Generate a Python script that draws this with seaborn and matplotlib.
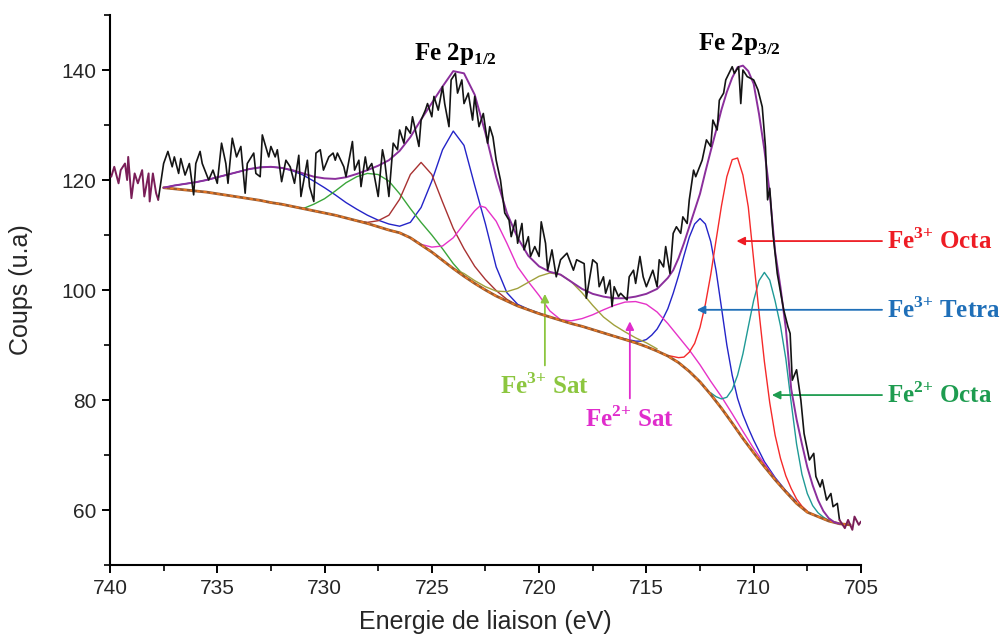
import matplotlib
matplotlib.use("Agg")
import matplotlib.pyplot as plt
from matplotlib.ticker import MultipleLocator
import seaborn as sns

# raw spectrum (black)
raw_x = [737.75, 737.5, 737.3, 737.1, 737.0, 736.8, 736.7, 736.5, 736.3, 736.1,
         736.0, 735.8, 735.7, 735.4, 735.2, 735.0, 734.8, 734.6, 734.5, 734.3,
         734.1, 733.9, 733.7, 733.6, 733.3, 733.2, 733.0, 732.9, 732.6, 732.5,
         732.3, 732.2, 732.0, 731.8, 731.6, 731.4, 731.2, 731.1, 730.8, 730.7,
         730.5, 730.4, 730.2, 730.05, 729.8, 729.6, 729.5, 729.4, 729.1, 729.0,
         728.7, 728.6, 728.4, 728.3, 728.1, 728.0, 727.8, 727.7, 727.5, 727.3,
         727.2, 727.0, 726.8, 726.6, 726.5, 726.3, 726.2, 726.0, 725.9, 725.6,
         725.5, 725.3, 725.2, 725.0, 724.9, 724.7, 724.5, 724.4, 724.2, 724.1,
         723.9, 723.8, 723.6, 723.5, 723.3, 723.1, 723.0, 722.8, 722.6, 722.4,
         722.3, 722.15, 722.0, 721.8, 721.7, 721.6, 721.4, 721.3, 721.1, 721.0,
         720.8, 720.7, 720.5, 720.4, 720.2, 720.0, 719.9, 719.7, 719.6, 719.4,
         719.2, 719.0, 718.7, 718.4, 718.25, 717.9, 717.8, 717.5, 717.3, 717.2,
         717.0, 716.9, 716.7, 716.6, 716.5, 716.3, 716.2, 715.9, 715.8, 715.6,
         715.5, 715.3, 715.15, 715.0, 714.7, 714.5, 714.4, 714.2, 714.1, 713.9,
         713.75, 713.6, 713.4, 713.3, 713.1, 713.0, 712.8, 712.7, 712.4, 712.2,
         712.0, 711.9, 711.7, 711.6, 711.4, 711.3, 711.0, 710.9, 710.7, 710.6,
         710.5, 710.3, 710.0, 709.8, 709.6, 709.45, 709.35, 709.25, 709.1, 708.9,
         708.6, 708.4, 708.3, 708.2, 708.0, 707.8, 707.65, 707.4, 707.2, 707.1,
         706.9, 706.8, 706.6, 706.4, 706.3, 706.1, 706.0]
raw_y = [116.4, 123.0, 125.2, 122.4, 124.2, 121.2, 123.9, 120.9, 123.0, 117.3,
         123.0, 125.2, 123.0, 120.0, 121.8, 119.4, 126.7, 123.0, 119.4, 127.6,
         124.2, 126.1, 117.6, 123.0, 124.9, 121.2, 120.6, 128.2, 124.2, 126.1,
         124.2, 125.5, 119.7, 123.6, 122.4, 119.4, 124.5, 117.0, 123.6, 118.8,
         116.1, 124.9, 125.5, 121.8, 124.2, 124.9, 123.6, 124.9, 122.4, 120.6,
         127.0, 121.8, 123.6, 118.8, 124.2, 121.8, 123.0, 121.2, 117.0, 125.5,
         123.6, 117.0, 126.7, 125.5, 129.1, 126.7, 129.7, 128.5, 131.5, 126.1,
         130.9, 132.7, 133.9, 131.5, 135.2, 132.7, 137.0, 133.9, 129.7, 138.2,
         139.4, 135.8, 138.2, 133.9, 135.8, 130.9, 135.2, 129.7, 132.1, 126.7,
         129.7, 127.8, 123.6, 120.0, 117.0, 114.0, 112.7, 109.7, 112.7, 108.5,
         112.1, 107.3, 109.7, 106.1, 107.9, 106.1, 112.4, 108.5, 103.6, 107.3,
         102.4, 105.5, 106.7, 103.6, 105.5, 104.8, 98.5, 105.5, 104.8, 100.6,
         102.4, 99.4, 101.8, 97.0, 100.6, 98.8, 99.4, 98.2, 102.4, 103.6,
         101.2, 106.1, 102.4, 100.6, 103.6, 100.6, 105.5, 104.2, 107.9, 103.0,
         110.3, 111.5, 110.3, 113.3, 112.1, 116.4, 121.8, 120.6, 123.6, 127.3,
         126.1, 130.9, 129.1, 134.5, 135.8, 138.2, 140.6, 139.4, 140.6, 133.9,
         140.0, 138.8, 138.2, 136.4, 133.3, 126.0, 116.4, 118.5, 110.3, 103.0,
         96.4, 93.3, 92.1, 83.6, 85.5, 80.0, 73.9, 69.1, 70.3, 66.1,
         64.2, 65.5, 61.8, 63.0, 60.6, 61.2, 58.2]

# data outside the fitted window (dark magenta)
edge_left_x = [739.94, 739.8, 739.6, 739.5, 739.3, 739.2, 739.15, 739.0, 738.85, 738.7,
               738.5, 738.4, 738.2, 738.15, 738.0, 737.85, 737.75]
edge_left_y = [120.6, 122.4, 119.4, 121.8, 123.0, 120.0, 124.2, 116.7, 121.2, 119.4,
               121.8, 117.0, 121.2, 116.1, 121.2, 117.6, 116.4]
edge_right_x = [706.0, 705.75, 705.6, 705.4, 705.3, 705.1, 705.0]
edge_right_y = [58.2, 56.7, 58.2, 56.4, 58.8, 57.3, 57.9]

# Shirley background
bg_x = [737.5, 737.0, 736.5, 736.0, 735.5, 735.0, 734.5, 734.0, 733.5, 733.0,
        732.5, 732.0, 731.5, 731.0, 730.5, 730.0, 729.5, 729.0, 728.5, 728.0,
        727.5, 727.0, 726.5, 726.0, 725.5, 725.0, 724.5, 724.0, 723.5, 723.0,
        722.5, 722.0, 721.5, 721.0, 720.5, 720.0, 719.5, 719.0, 718.5, 718.0,
        717.5, 717.0, 716.5, 716.0, 715.5, 715.0, 714.5, 714.0, 713.5, 713.0,
        712.5, 712.0, 711.5, 711.0, 710.5, 710.0, 709.5, 709.0, 708.5, 708.0,
        707.5, 707.0, 706.5, 706.0, 705.5]
bg_y = [118.6, 118.4, 118.2, 118.0, 117.8, 117.5, 117.2, 116.9, 116.6, 116.3,
        115.9, 115.6, 115.2, 114.8, 114.4, 114.0, 113.6, 113.1, 112.6, 112.1,
        111.5, 110.9, 110.4, 109.5, 108.2, 106.9, 105.4, 103.9, 102.5, 101.2,
        100.0, 98.9, 98.0, 97.1, 96.4, 95.7, 95.1, 94.5, 93.9, 93.4,
        92.8, 92.2, 91.6, 91.0, 90.4, 89.7, 88.9, 88.0, 86.8, 85.2,
        83.3, 81.0, 78.5, 75.8, 73.0, 70.4, 67.9, 65.5, 63.3, 61.2,
        59.6, 58.8, 58.0, 57.5, 57.3]

# envelope (sum of components)
env_x = [737.5, 737.0, 736.5, 736.0, 735.5, 735.0, 734.5, 734.0, 733.5, 733.0,
         732.5, 732.0, 731.5, 731.0, 730.5, 730.0, 729.5, 729.0, 728.5, 728.0,
         727.5, 727.0, 726.5, 726.0, 725.5, 725.0, 724.5, 724.0, 723.5, 723.0,
         722.5, 722.0, 721.5, 721.0, 720.5, 720.0, 719.5, 719.0, 718.5, 718.0,
         717.5, 717.0, 716.5, 716.0, 715.5, 715.0, 714.5, 714.0, 713.75, 713.5,
         713.25, 713.0, 712.75, 712.5, 712.25, 712.0, 711.75, 711.5, 711.25, 711.0,
         710.75, 710.5, 710.25, 710.0, 709.75, 709.5, 709.25, 709.0, 708.75, 708.5,
         708.25, 708.0, 707.75, 707.5, 707.25, 707.0, 706.75, 706.5, 706.25, 706.0]
env_y = [118.6, 119.0, 119.3, 119.6, 120.0, 120.5, 121.0, 121.5, 122.0, 122.3,
         122.4, 122.2, 121.8, 121.2, 120.6, 120.3, 120.2, 120.5, 121.1, 121.8,
         122.6, 123.6, 125.3, 127.8, 131.0, 134.0, 137.0, 139.8, 139.4, 135.5,
         128.5, 120.5, 114.0, 109.5, 106.2, 104.3, 103.3, 102.8, 101.5, 100.2,
         99.3, 98.8, 98.5, 98.5, 98.8, 99.3, 100.2, 102.2, 103.6, 105.8,
         108.5, 111.5, 114.5, 117.5, 121.5, 125.3, 129.0, 132.8, 136.0, 138.6,
         140.5, 140.8, 139.8, 137.5, 132.0, 125.5, 117.6, 107.0, 100.5, 93.0,
         82.0, 76.5, 72.0, 67.8, 64.5, 61.8, 59.8, 58.5, 57.8, 57.5]

# components
blue_x = [737.5, 737.0, 736.5, 736.0, 735.5, 735.0, 734.5, 734.0, 733.5, 733.0,
          732.5, 732.0, 731.5, 731.0, 730.5, 730.0, 729.5, 729.0, 728.5, 728.0,
          727.5, 727.0, 726.5, 726.0, 725.5, 725.0, 724.5, 724.0, 723.5, 723.0,
          722.5, 722.0, 721.5, 721.0, 720.5, 720.0, 719.5, 719.0, 718.5, 718.0,
          717.5, 717.0, 716.5, 716.0, 715.5, 715.25, 715.0, 714.75, 714.5, 714.25,
          714.0, 713.75, 713.5, 713.25, 713.0, 712.75, 712.5, 712.25, 712.0, 711.75,
          711.5, 711.25, 711.0, 710.75, 710.5, 710.25, 710.0, 709.5, 709.0, 708.5,
          708.0]
blue_y = [118.6, 119.0, 119.3, 119.6, 120.0, 120.5, 121.0, 121.5, 122.0, 122.3,
          122.4, 122.2, 121.7, 120.9, 119.8, 118.6, 117.3, 115.9, 114.7, 113.6,
          112.7, 112.0, 111.6, 112.3, 115.0, 119.8, 125.5, 128.9, 126.3, 119.0,
          112.0, 104.2, 99.5, 97.4, 96.5, 95.8, 95.1, 94.5, 93.9, 93.4,
          92.8, 92.2, 91.6, 91.1, 90.7, 90.7, 91.0, 91.8, 92.9, 94.6,
          96.6, 99.4, 102.6, 106.2, 109.6, 112.0, 113.0, 112.0, 108.8, 103.5,
          96.8, 90.0, 84.5, 80.3, 77.3, 74.9, 72.7, 68.8, 65.9, 63.5,
          61.5]

red_x = [714.0, 713.75, 713.5, 713.25, 713.0, 712.75, 712.5, 712.25, 712.0, 711.75,
         711.5, 711.25, 711.0, 710.75, 710.5, 710.25, 710.0, 709.75, 709.5, 709.25,
         709.0, 708.75, 708.5, 708.25, 708.0, 707.75, 707.5]
red_y = [88.1, 87.9, 87.7, 87.8, 88.7, 90.3, 93.2, 97.4, 102.8, 109.1,
         115.3, 120.6, 123.7, 124.0, 120.9, 115.1, 105.5, 96.0, 87.0, 79.5,
         73.6, 69.4, 66.2, 63.9, 62.0, 60.7, 59.8]

teal_x = [712.0, 711.75, 711.5, 711.25, 711.0, 710.75, 710.5, 710.25, 710.0, 709.75,
          709.5, 709.25, 709.0, 708.75, 708.5, 708.25, 708.0, 707.75, 707.5, 707.25,
          707.0, 706.75, 706.5]
teal_y = [81.3, 80.6, 80.2, 80.5, 81.9, 84.5, 88.4, 93.3, 98.1, 101.7,
          103.2, 101.8, 98.0, 93.5, 87.5, 79.5, 72.0, 66.5, 63.0, 60.8,
          59.5, 58.7, 58.1]

magenta_x = [726.0, 725.5, 725.0, 724.5, 724.0, 723.5, 723.0, 722.75, 722.5, 722.0,
             721.5, 721.0, 720.5, 720.0, 719.5, 719.0, 718.5, 718.0, 717.5, 717.0,
             716.5, 716.0, 715.5, 715.0, 714.5, 714.0, 713.5, 713.0, 712.5, 712.0,
             711.5, 711.0, 710.5, 710.0, 709.5, 709.0, 708.5]
magenta_y = [109.5, 108.3, 107.8, 108.0, 109.5, 112.0, 114.4, 115.3, 115.0, 112.5,
             108.5, 104.2, 101.5, 99.0, 96.2, 94.6, 94.4, 94.8, 95.5, 96.4,
             97.2, 97.8, 97.9, 97.4, 96.0, 93.9, 91.5, 89.1, 86.4, 83.4,
             80.6, 77.5, 74.3, 71.2, 68.4, 65.7, 63.4]

olive_x = [724.0, 723.5, 723.0, 722.5, 722.0, 721.5, 721.0, 720.5, 720.0, 719.5,
           719.0, 718.5, 718.0, 717.5, 717.0, 716.5, 716.0, 715.5, 715.0, 714.5]
olive_y = [103.9, 103.0, 101.7, 100.6, 99.8, 99.7, 100.3, 101.4, 102.5, 103.1,
           102.8, 101.5, 99.5, 97.2, 95.1, 93.6, 92.4, 91.3, 90.4, 89.3]

green_x = [731.0, 730.5, 730.0, 729.5, 729.0, 728.5, 728.0, 727.5, 727.0, 726.5,
           726.0, 725.5, 725.0, 724.5, 724.0, 723.5, 723.0]
green_y = [114.8, 115.6, 116.6, 118.0, 119.5, 120.6, 121.2, 121.0, 119.8, 117.5,
           114.8, 112.3, 110.0, 107.5, 104.8, 102.6, 101.2]

darkred_x = [728.5, 728.0, 727.5, 727.0, 726.5, 726.0, 725.5, 725.0, 724.5, 724.0,
             723.5, 723.0, 722.5, 722.0, 721.5, 721.0, 720.5]
darkred_y = [112.6, 112.3, 112.6, 113.6, 116.5, 121.0, 123.2, 121.0, 116.0, 111.2,
             107.5, 104.3, 101.9, 99.9, 98.3, 97.2, 96.4]

sns.set_theme(style="ticks")
plt.rcParams['font.family'] = ['Liberation Sans', 'DejaVu Sans']
plt.rcParams['mathtext.fontset'] = 'custom'
plt.rcParams['mathtext.rm'] = 'Liberation Serif'
plt.rcParams['mathtext.bf'] = 'Liberation Serif:bold'

fig = plt.figure(figsize=(10.08, 6.39), dpi=100)
ax = fig.add_axes([0.1091, 0.1158, 0.745, 0.8607])


def curve(x, y, color, lw=1.0, z=3, **kw):
    sns.lineplot(x=x, y=y, color=color, linewidth=lw, ax=ax, sort=False,
                 estimator=None, zorder=z, **kw)


curve(blue_x, blue_y, "#2424c8")
curve(green_x, green_y, "#3aa53a")
curve(darkred_x, darkred_y, "#a83232")
curve(magenta_x, magenta_y, "#e632c8")
curve(olive_x, olive_y, "#a0a03c")
curve(teal_x, teal_y, "#1f9a96")
curve(red_x, red_y, "#f52a2a")
curve(bg_x, bg_y, "#9a5a2e", lw=2.0, z=3.5)
curve(bg_x, bg_y, "#f07a22", lw=1.2, z=3.6, linestyle=(0, (2, 2)))
curve(env_x, env_y, "#8b2f9c", lw=1.4, z=4)
curve(raw_x, raw_y, "#141414", lw=1.2, z=5)
curve(edge_left_x, edge_left_y, "#7a1e58", lw=1.4, z=5)
curve(edge_right_x, edge_right_y, "#7a1e58", lw=1.4, z=5)

ax.set_xlim(740, 705)
ax.set_ylim(50, 150)
ax.xaxis.set_major_locator(MultipleLocator(5))
ax.xaxis.set_minor_locator(MultipleLocator(2.5))
ax.set_yticks([60, 80, 100, 120, 140])
ax.yaxis.set_minor_locator(MultipleLocator(10))
ax.tick_params(which="major", length=6, width=1.4, labelsize=15, color="black", pad=4)
ax.tick_params(which="minor", length=4, width=1.2, color="black")
for s in ["top", "right"]:
    ax.spines[s].set_visible(False)
for s in ["left", "bottom"]:
    ax.spines[s].set_linewidth(1.5)
    ax.spines[s].set_color("black")

ax.set_xlabel("Energie de liaison (eV)", fontsize=18, labelpad=9)
ax.set_ylabel("Coups (u.a)", fontsize=18, labelpad=20)

serif = dict(family="Liberation Serif", weight="bold")
ax.text(723.9, 142.9, r"Fe 2p$_{\mathbf{1/2}}$", ha="center", va="center",
        fontsize=18, color="black", **serif)
ax.text(710.64, 144.7, r"Fe 2p$_{\mathbf{3/2}}$", ha="center", va="center",
        fontsize=18, color="black", **serif)

right_labels = [
    (r"Fe$^{\mathbf{3{+}}}$Octa", "#ee1c24", 710.8, 108.9),
    (r"Fe$^{\mathbf{3{+}}}$Tetra", "#1f6fb8", 712.65, 96.4),
    (r"Fe$^{\mathbf{2{+}}}$Octa", "#1e9c50", 709.15, 80.9),
]
for txt, col, tx, ty in right_labels:
    ax.annotate(txt.replace("$O", "$ O").replace("$T", "$ T"), xy=(tx, ty),
                xytext=(703.8, ty), textcoords="data",
                ha="left", va="center", fontsize=18, color=col,
                annotation_clip=False,
                arrowprops=dict(arrowstyle="-|>", color=col, lw=1.3,
                                mutation_scale=12, shrinkA=1, shrinkB=0),
                **serif)

sat_labels = [
    (r"Fe$^{\mathbf{3{+}}}$ Sat", "#8cc63f", 719.73, 99.3, 82.6),
    (r"Fe$^{\mathbf{2{+}}}$ Sat", "#e02ccc", 715.77, 94.3, 76.6),
]
for txt, col, tx, ty, ly in sat_labels:
    ax.annotate(txt, xy=(tx, ty), xytext=(tx, ly), textcoords="data",
                ha="center", va="center", fontsize=18, color=col,
                arrowprops=dict(arrowstyle="-|>", color=col, lw=1.3,
                                mutation_scale=12, shrinkA=3, shrinkB=0),
                **serif)

fig.savefig("out.png", dpi=100)
